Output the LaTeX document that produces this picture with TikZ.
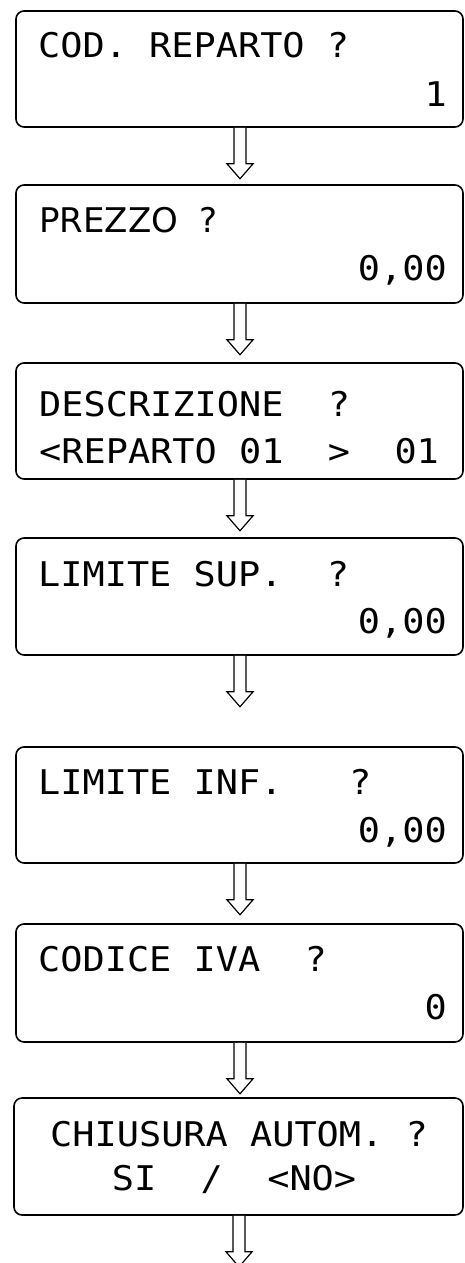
\documentclass[tikz,border=0pt]{standalone}
\usepackage{fontspec}
\setmainfont{DejaVu Sans}
\newfontfamily\monofont[FakeStretch=1.085]{DejaVu Sans Mono}
\begin{document}
\begin{tikzpicture}[x=1pt,y=-1pt,
  screen/.style={draw=black,line width=1.6pt,rounded corners=8pt,inner sep=0pt,minimum width=447pt},
  ltxt/.style={inner sep=0pt,anchor=base west,font=\monofont\fontsize{34}{34}\selectfont},
  rtxt/.style={inner sep=0pt,anchor=base east,font=\monofont\fontsize{34}{34}\selectfont},
  ctxt/.style={inner sep=0pt,anchor=base,font=\monofont\fontsize{34}{34}\selectfont},
  ptxt/.style={inner sep=0pt,anchor=base west,font=\fontsize{34}{34}\selectfont},
  flow/.style={draw=black,line width=1.2pt,fill=white,line join=miter}]
\useasboundingbox (0,0) rectangle (464,1263);
% boxes
\node[screen,minimum height=116pt] (b1) at (239.5,69) {};
\node[screen,minimum height=118pt] (b2) at (239.5,244) {};
\node[screen,minimum height=116pt] (b3) at (239.5,421) {};
\node[screen,minimum height=117pt] (b4) at (239.5,596.5) {};
\node[screen,minimum height=116pt] (b5) at (239.5,805) {};
\node[screen,minimum height=118pt] (b6) at (239.5,983) {};
\node[screen,minimum height=117pt,minimum width=449pt] (b7) at (238.5,1156.5) {};
% texts
\node[ltxt] (t1a) at (38,58) {COD. REPARTO ?};
\node[rtxt] (t1b) at (447,106) {1};
\node[ptxt] (t2a) at (39,232) {PREZZO\hspace{21pt}?};
\node[rtxt] (t2b) at (447,280) {0,00};
\node[ltxt] (t3a) at (39,416) {DESCRIZIONE~~?};
\node[ltxt] (t3b) at (39,463) {<REPARTO 01~~>~~01};
\node[ltxt] (t4a) at (38,586) {LIMITE SUP.~~?};
\node[rtxt] (t4b) at (447,633) {0,00};
\node[ltxt] (t5a) at (38,794) {LIMITE INF.~~~?};
\node[rtxt] (t5b) at (447,842) {0,00};
\node[ltxt] (t6a) at (38,971) {CODICE IVA~~?};
\node[rtxt] (t6b) at (447,1019) {0};
\node[ctxt] (t7a) at (239,1146) {CHIUSURA AUTOM. ?};
\node[ctxt] (t7b) at (234,1190) {SI~~/~~<NO>};
% block arrows
\foreach \b in {b1,b2,b3,b4,b5,b6,b7}{
  \draw[flow] (\b.south) ++(-5.5,0) -- ++(0,36) -- ++(-7,0) -- ++(13,15) -- ++(13,-15) -- ++(-7,0) -- ++(0,-36);
}
\end{tikzpicture}
\end{document}
